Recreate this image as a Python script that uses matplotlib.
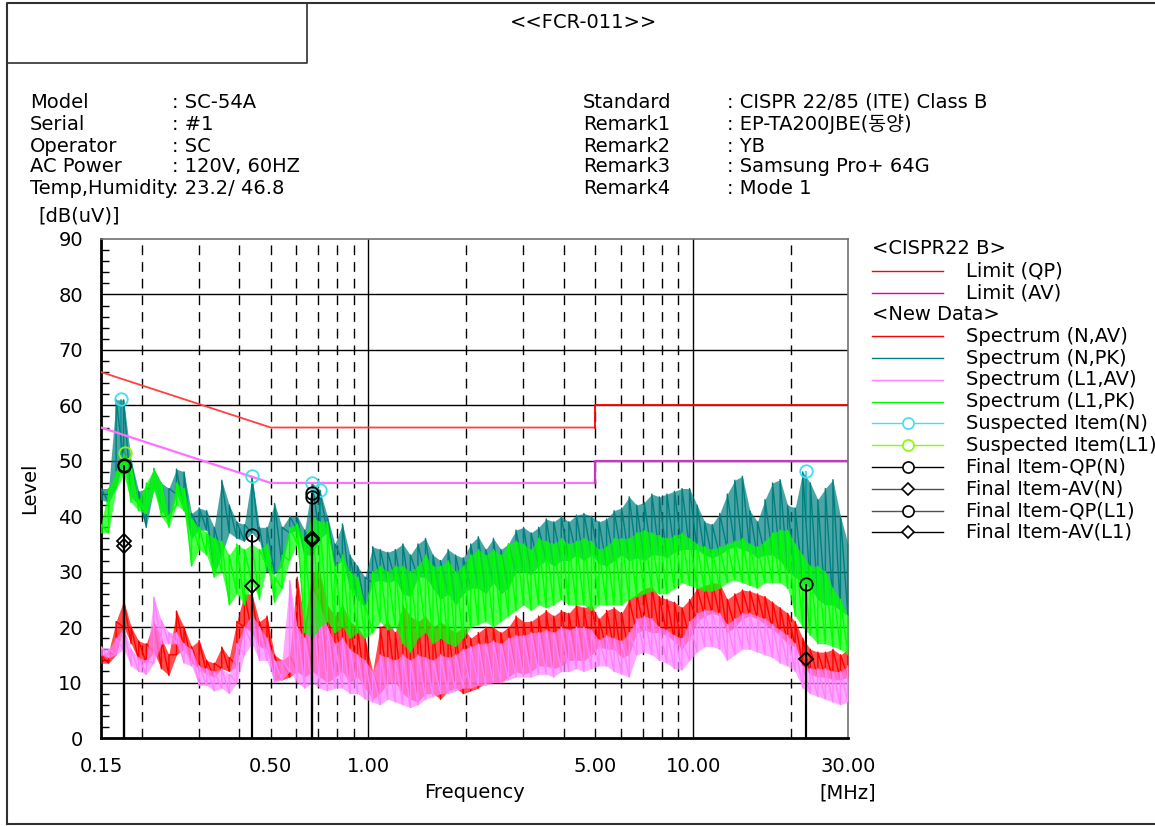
import numpy as np
import matplotlib
matplotlib.use("Agg")
import matplotlib.pyplot as plt
from matplotlib.ticker import MultipleLocator, NullLocator

plt.rcParams['font.family'] = ['DejaVu Sans', 'Noto Sans CJK KR']

# 100 display points of the sweep, log spaced 0.15 - 30 MHz (min / max per point)
freq = np.geomspace(0.15, 30.0, 100)

n_pk_hi = [45, 45, 61, 61, 50, 44.5, 45, 48.6, 46, 45,
           48.5, 48, 40.5, 41.5, 41, 38, 46.5, 42, 39, 38.5,
           47.2, 38, 38, 42.3, 38, 40, 40, 37.5, 46, 44.7,
           40, 35, 38.6, 33, 31, 29, 34.5, 34, 33.5, 34,
           35, 33, 35, 36, 33, 32, 34, 33, 32.5, 35,
           36.3, 34, 36, 34, 35, 37.5, 38, 37, 38, 39.5,
           39, 40, 39, 40.2, 40.5, 40, 39, 39.5, 41, 41.5,
           43.5, 42, 42.5, 44, 43.5, 44, 44.5, 45, 45, 42,
           39, 38.5, 40.5, 44, 46.5, 47.2, 41, 39, 43, 46,
           46.6, 42, 41.5, 48, 46, 43, 45, 46.6, 40, 35]
n_pk_lo = [43, 42.5, 45, 50, 43.5, 42, 38, 45, 41, 39,
           44, 41, 36, 37.5, 37.5, 29.5, 33, 37, 36, 35.5,
           37, 35.5, 30, 29.6, 31, 37, 37.5, 33, 33, 36,
           37, 31, 32, 27, 25, 23.5, 28, 28.5, 28, 28.5,
           26, 25.5, 29, 29, 27, 25, 26, 24, 26, 27,
           27, 26, 28, 26, 27, 30, 30, 29.5, 31, 32,
           31, 32, 32, 33, 32, 33, 31.5, 31, 32, 33,
           32, 32.5, 32, 33, 33, 32.5, 33.5, 34, 34, 34,
           33, 32.5, 33, 34, 34.5, 34, 33.5, 32.5, 33, 33,
           32, 30, 29, 28, 27, 25, 24, 24, 23, 22]

l1_pk_hi = [38.5, 45, 48, 51.3, 49, 43, 46, 48.6, 46, 40,
            46, 45, 39.5, 38, 37, 36, 35.5, 33, 35, 34,
            35, 34, 35, 29, 33, 38, 38.6, 36, 40, 39,
            39, 31, 33, 30, 29, 24, 30, 31, 30, 31,
            31, 30, 31, 33, 31, 31, 32, 30, 31, 33,
            34, 33, 34, 33, 35, 35.5, 35, 34, 36, 35.5,
            35, 36, 35, 35.5, 36, 35.5, 34, 34.5, 36, 36,
            36, 37, 37.5, 37, 36.5, 36, 36.5, 37, 36, 35,
            34.5, 34, 34.5, 35, 35.5, 36, 35, 34.5, 35.5, 37,
            37.5, 37.5, 35, 33, 31, 31, 30, 27, 25, 22]
l1_pk_lo = [37, 37, 45, 47.5, 42.5, 41, 40.5, 44.5, 40, 38,
            42, 41, 31, 34, 33, 29, 30, 24, 26, 24,
            28, 25, 31, 24.5, 27, 32, 35, 19, 18, 20,
            21, 19, 20, 18, 19, 18, 19, 21, 19.5, 20,
            17, 15.5, 18, 19, 17, 18, 17, 16.5, 18, 20,
            20.5, 21, 20, 21, 22, 23, 24, 23, 24, 23.5,
            24, 25, 24, 24, 24, 23, 24, 24, 24, 24,
            25, 25.5, 26, 26.5, 26, 26, 27, 28, 27.5, 27,
            26.5, 26.5, 27, 28, 28.5, 28, 27.5, 27, 28, 28,
            28, 27, 22, 20, 18.5, 17, 17, 16.5, 16, 15]

n_av_hi = [15, 15.5, 21, 24.8, 20, 17.5, 17, 21, 18, 15,
           22.9, 20, 16.5, 17.6, 14, 13.5, 16.4, 14.5, 21, 26,
           26, 21, 22, 15, 14, 15, 29, 21, 30, 30,
           24, 22, 24, 21, 20, 18, 12, 20, 21, 19,
           24, 22, 21, 22, 20, 21, 20, 19, 20, 18,
           19, 20, 20, 19, 20, 22, 21, 21, 22, 23,
           22, 23, 22.5, 24, 23.5, 24, 21.5, 23, 23.5, 22.5,
           25, 26, 27, 27.3, 25.5, 25, 24.5, 23.5, 25, 27,
           27.5, 28, 27.9, 25, 26, 26.7, 26.5, 26, 25.5, 24.5,
           23.5, 22.5, 21, 18, 16, 15.5, 15.5, 16, 15, 16]
n_av_lo = [13.5, 13.5, 15, 20, 17, 14, 13.5, 15.5, 12.5, 11.3,
           15, 16, 13.5, 12.5, 11.5, 11, 12.5, 12, 13, 20,
           19, 16.5, 16, 10.5, 10.5, 11, 12, 11, 12, 11,
           10, 11, 12, 10, 11, 9, 7, 8, 10, 10,
           8, 7, 6.5, 8, 8, 7, 8.5, 9, 8, 8.5,
           9, 10, 10, 10, 11, 12, 11.5, 12, 13, 13,
           12.5, 13, 14, 14, 14, 15, 16.5, 16, 16, 14.5,
           15, 19, 19.5, 19, 19, 18.5, 17.5, 16, 18, 21,
           22, 22.5, 22, 19, 20, 21.5, 22, 21.5, 20.5, 19.5,
           18.5, 17, 16.5, 13, 11.5, 11, 11, 10.5, 10.5, 11]

l1_av_hi = [16.5, 16, 18, 20, 16, 14.5, 14, 25.4, 21.2, 19,
            19, 17, 16, 13, 12.5, 12, 12.5, 11.5, 17, 20,
            22.3, 20, 18, 14, 14, 28.4, 20, 18, 27, 24,
            20, 17, 18, 16, 15, 14, 12, 15, 14.5, 14,
            15, 14, 15, 14.5, 14, 15, 14.5, 15, 16, 16.5,
            17, 17, 17.5, 17, 18, 18.5, 18.5, 19, 19, 19.5,
            19, 20, 19.5, 20, 20, 19.5, 17.7, 18.5, 18, 17.5,
            19, 21.5, 22, 21.5, 20, 19.5, 18.5, 18, 21, 22.5,
            23.1, 23, 22.5, 20.5, 21.5, 22.5, 22.5, 22, 21.5, 20.5,
            19.5, 18.5, 17, 13, 12.5, 12.5, 12.5, 12, 12, 13]
l1_av_lo = [15, 14.5, 15, 16, 13, 12, 11.5, 13.5, 17, 17,
            17, 13.5, 13, 9.5, 9.5, 8.5, 9, 8, 10, 15,
            17, 14, 14, 10, 10.5, 12, 10, 9, 10, 9,
            8.5, 9, 9, 8, 8, 7, 6.5, 6, 7, 6.5,
            6, 5.5, 6, 7, 7.5, 8, 8, 8.5, 9, 9,
            9.5, 9.5, 10, 10, 10.5, 11, 11, 11, 11.5, 11.5,
            11, 12, 12, 12.5, 12, 12.5, 13, 13, 12, 11.5,
            11, 15, 15.5, 15, 14, 13.5, 12.5, 12.3, 14, 15.5,
            16.5, 16.5, 16, 14, 15, 16, 16, 15.5, 15, 14.5,
            13.5, 13, 12, 9, 8, 7.5, 7, 6.5, 6, 6.5]

# CISPR 22 class B limits
limit_f = [0.15, 0.5, 5.0, 5.0, 30.0]
limit_qp = [66, 56, 56, 60, 60]
limit_av = [56, 46, 46, 50, 50]

# suspected / final items
susp_n_f = [0.173, 0.438, 0.670, 0.709, 22.3]
susp_n_v = [61.1, 47.3, 46.0, 44.7, 48.2]
susp_n_base = [51.0, 38.0, 38.0, 39.0, 39.0]
susp_l1_f = [0.178]
susp_l1_v = [51.4]
susp_l1_base = [49.0]
qp_n_f = [0.177, 0.438, 0.670, 22.3]
qp_n_v = [49.2, 36.6, 43.5, 27.8]
av_n_f = [0.177, 0.438, 0.670, 22.3]
av_n_v = [34.6, 27.4, 35.8, 14.2]
qp_l1_f = [0.177, 0.672]
qp_l1_v = [49.0, 44.2]
av_l1_f = [0.177, 0.672]
av_l1_v = [35.5, 36.0]

header_left = [("Model", ": SC-54A"), ("Serial", ": #1"), ("Operator", ": SC"),
               ("AC Power", ": 120V, 60HZ"), ("Temp,Humidity", ": 23.2/ 46.8")]
header_right = [("Standard", ": CISPR 22/85 (ITE) Class B"),
                ("Remark1", ": EP-TA200JBE(동양)"), ("Remark2", ": YB"),
                ("Remark3", ": Samsung Pro+ 64G"), ("Remark4", ": Mode 1")]

C_N_AV = '#ff0000'
C_N_PK = '#007f7f'
C_L1_AV = '#ff80ff'
C_L1_PK = '#00ff00'
C_SUSP_N = '#40e0f0'
C_SUSP_L1 = '#80ff00'

W, H = 1155, 826
fig = plt.figure(figsize=(W / 100, H / 100), dpi=100)
ax = fig.add_axes([101 / W, 1 - 738 / H, 747 / W, 499 / H])
ax.set_xscale('log')
ax.set_xlim(0.15, 30)
ax.set_ylim(0, 90)

# grid
for y in range(10, 90, 10):
    ax.axhline(y, color='black', lw=1.0, zorder=1)
for x in [1, 10]:
    ax.axvline(x, color='black', lw=1.0, zorder=1)
for x in [0.2, 0.3, 0.4, 0.5, 0.6, 0.7, 0.8, 0.9, 2, 3, 4, 5, 6, 7, 8, 9, 20]:
    ax.axvline(x, color='black', lw=1.0, dashes=(7, 5), zorder=1)

# suspected stems (behind spectra)
ax.vlines(susp_n_f, susp_n_base, susp_n_v, color=C_SUSP_N, lw=1.5, zorder=2)
ax.vlines(susp_l1_f, susp_l1_base, susp_l1_v, color=C_SUSP_L1, lw=1.5, zorder=2)


def draw_spectrum(hi, lo, color):
    x = np.repeat(freq, 2)
    y = np.column_stack([lo, hi]).ravel()
    ax.fill_between(freq, lo, hi, color=color, alpha=0.7, lw=0, zorder=3)
    ax.plot(x, y, color=color, lw=1.0, zorder=3)


draw_spectrum(n_av_hi, n_av_lo, C_N_AV)
draw_spectrum(n_pk_hi, n_pk_lo, C_N_PK)
draw_spectrum(l1_av_hi, l1_av_lo, C_L1_AV)
draw_spectrum(l1_pk_hi, l1_pk_lo, C_L1_PK)

# limits
ax.plot(limit_f[:3], limit_qp[:3], color='#ff4040', lw=1.3, zorder=4)
ax.plot(limit_f[2:], limit_qp[2:], color='#ff0000', lw=1.3, zorder=4)
ax.plot(limit_f[:3], limit_av[:3], color='#ff70ff', lw=1.6, zorder=4)
ax.plot(limit_f[2:], limit_av[2:], color='#cc33cc', lw=1.6, zorder=4)

# markers
ax.plot(susp_n_f, susp_n_v, 'o', ms=9, mfc='none', mec=C_SUSP_N, mew=1.3, zorder=6)
ax.plot(susp_l1_f, susp_l1_v, 'o', ms=9, mfc='none', mec=C_SUSP_L1, mew=1.3, zorder=6)
for f_list, v_list, mk in [(qp_n_f, qp_n_v, 'o'), (av_n_f, av_n_v, 'D'),
                           (qp_l1_f, qp_l1_v, 'o'), (av_l1_f, av_l1_v, 'D')]:
    ax.vlines(f_list, 0, v_list, color='black', lw=1.5, zorder=5)
    ax.plot(f_list, v_list, mk, ms=9 if mk == 'o' else 7, mfc='none', mec='black',
            mew=1.3, zorder=6)

# axes styling
for side in ['left', 'bottom']:
    ax.spines[side].set_linewidth(2.0)
for side in ['top', 'right']:
    ax.spines[side].set_linewidth(1.2)
    ax.spines[side].set_color('#707070')
ax.set_xticks([0.15, 0.5, 1, 5, 10, 30])
ax.set_xticklabels(['0.15', '0.50', '1.00', '5.00', '10.00', '30.00'])
ax.xaxis.set_minor_locator(NullLocator())
ax.tick_params(axis='x', length=0, pad=14, labelsize=14)
ax.yaxis.set_major_locator(MultipleLocator(10))
ax.yaxis.set_minor_locator(MultipleLocator(2))
ax.tick_params(axis='y', which='major', length=0, pad=13, labelsize=14)
ax.tick_params(axis='y', which='minor', length=6, direction='in', width=1)

# page overlay (pixel coordinates)
ov = fig.add_axes([0, 0, 1, 1], zorder=10)
ov.set_xlim(0, W)
ov.set_ylim(H, 0)
ov.axis('off')
ov.plot([7, 7, W], [824, 3, 3], color='#303030', lw=1.5)
ov.plot([7, W], [824, 824], color='#303030', lw=1.5)
ov.plot([7, 307, 307], [63, 63, 3], color='#303030', lw=1.2)
ov.text(583, 22, '<<FCR-011>>', fontsize=14, ha='center', va='center')

row_y = [102, 124, 146, 167, 188]
for (lab, val), y in zip(header_left, row_y):
    ov.text(30, y, lab, fontsize=14, va='center')
    ov.text(172, y, val, fontsize=14, va='center')
for (lab, val), y in zip(header_right, row_y):
    ov.text(583, y, lab, fontsize=14, va='center')
    ov.text(727, y, val, fontsize=14, va='center')

ov.text(38, 216, '[dB(uV)]', fontsize=14, va='center')
ov.text(30, 488, 'Level', fontsize=14, va='center', ha='center', rotation=90)
ov.text(474, 793, 'Frequency', fontsize=14, va='center', ha='center')
ov.text(848, 793, '[MHz]', fontsize=14, va='center', ha='center')

# legend
legend_rows = [
    ('<CISPR22 B>', None, None),
    ('Limit (QP)', '#ff0000', None),
    ('Limit (AV)', '#cc00cc', None),
    ('<New Data>', None, None),
    ('Spectrum (N,AV)', C_N_AV, None),
    ('Spectrum (N,PK)', C_N_PK, None),
    ('Spectrum (L1,AV)', C_L1_AV, None),
    ('Spectrum (L1,PK)', C_L1_PK, None),
    ('Suspected Item(N)', C_SUSP_N, 'o'),
    ('Suspected Item(L1)', C_SUSP_L1, 'o'),
    ('Final Item-QP(N)', 'black', 'o'),
    ('Final Item-AV(N)', '#505050', 'D'),
    ('Final Item-QP(L1)', '#505050', 'o'),
    ('Final Item-AV(L1)', 'black', 'D'),
]
for k, (txt, col, mk) in enumerate(legend_rows):
    y = 249 + 21.8 * k
    if col is None:
        ov.text(872, y, txt, fontsize=14, va='center')
        continue
    ov.plot([872, 943], [y, y], color=col, lw=1.0)
    if mk is not None:
        mc = 'black' if col == '#505050' else col
        ov.plot([908], [y], mk, ms=8 if mk == 'o' else 6, mfc='white', mec=mc, mew=1.2)
    ov.text(966, y, txt, fontsize=14, va='center')

fig.savefig('out.png', dpi=100)
